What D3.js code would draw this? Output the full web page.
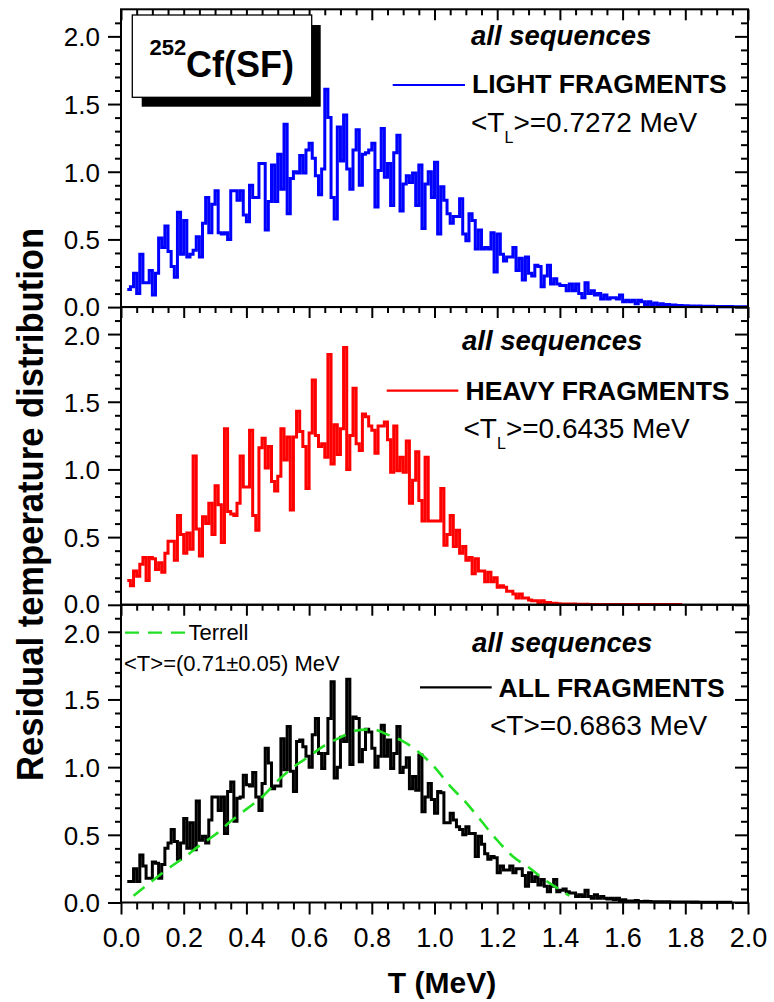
<!DOCTYPE html>
<html>
<head>
<meta charset="utf-8">
<script src="https://cdn.jsdelivr.net/npm/d3@7"></script>
<style>
  html, body { margin: 0; padding: 0; background: #fff; }
  svg { display: block; }
  text { font-family: "Liberation Sans", Arial, Helvetica, sans-serif; }
</style>
</head>
<body>
<svg id="chart" width="774" height="1002"></svg>
<script>
// Histogram binning: lower edge of the first bin and bin width (MeV)
const binStart = 0.02;
const binWidth = 0.01;

// Light fragments, bins from 0.02 to 1.99 MeV
const lightValues = [
  0.13,0.15,0.25,0.10,0.39,0.18,0.18,0.27,0.09,0.25,
  0.51,0.44,0.60,0.41,0.30,0.22,0.70,0.39,0.64,0.37,
  0.39,0.42,0.52,0.37,0.62,0.81,0.55,0.76,0.86,0.55,
  0.54,0.55,0.50,0.86,0.86,0.79,0.86,0.68,0.63,0.90,
  0.81,0.81,1.06,1.06,0.57,0.78,1.05,0.78,1.13,0.87,
  1.35,0.69,0.95,1.00,0.99,1.12,0.99,1.16,1.21,1.10,
  0.97,0.83,1.02,1.61,1.40,0.81,0.65,1.33,1.08,1.42,
  1.02,0.87,1.16,1.31,0.90,1.13,1.14,1.16,1.21,0.74,
  1.01,1.32,0.96,1.06,0.75,1.14,1.27,0.71,0.91,0.97,
  0.92,0.99,0.75,1.05,0.58,0.91,
  1.00,0.81,1.07,0.54,0.89,0.79,0.69,0.62,0.67,0.67,
  0.80,0.54,0.49,0.69,0.64,0.43,0.57,0.43,0.44,0.43,
  0.55,0.26,0.54,0.39,0.34,0.37,0.37,0.44,0.27,0.36,
  0.20,0.37,0.25,0.23,0.31,0.30,0.15,0.23,0.31,0.17,
  0.21,0.17,0.16,0.16,0.12,0.17,0.12,0.17,0.10,0.07,
  0.18,0.10,0.12,0.09,0.10,0.06,0.09,0.06,0.07,0.07,
  0.06,0.09,0.04,0.05,0.04,0.05,0.025,0.05,0.04,0.02,
  0.04,0.02,0.03,0.012,0.025,0.012,0.02,0.012,0.015,0.01,
  0.012,0.008,0.01,0.006,0.009,0.005,0.008,0.005,0.006,0.004,
  0.006,0.004,0.005,0.003,0.004,0.003,0.004,0.003,0.003,0.002,
  0.003,0.002
];

// Heavy fragments, bins from 0.02 to 1.78 MeV
const heavyValues = [
  0.18,0.14,0.25,0.21,0.30,0.35,0.18,0.35,0.34,0.26,
  0.31,0.24,0.38,0.47,0.47,0.33,0.66,0.52,0.38,0.53,
  0.41,1.10,0.56,0.36,0.65,0.60,0.75,0.52,0.88,0.74,
  0.46,1.30,0.69,0.67,0.66,0.75,1.10,0.87,0.87,1.29,
  0.66,0.55,1.16,1.23,1.01,1.17,0.91,0.84,0.95,1.30,
  1.07,1.24,0.70,1.24,1.43,1.28,1.17,0.86,1.27,1.66,
  1.25,1.17,1.19,1.09,1.85,1.04,1.33,1.11,1.30,1.90,
  1.00,1.25,1.60,1.19,1.14,1.41,1.39,1.32,1.29,1.12,
  1.32,1.32,1.35,1.22,0.98,1.32,0.99,1.09,0.98,1.21,
  0.75,0.92,1.13,0.77,0.62,
  1.09,0.62,0.62,0.62,0.62,0.86,0.44,0.52,0.66,0.43,
  0.55,0.38,0.43,0.33,0.35,0.23,0.34,0.25,0.25,0.17,
  0.24,0.17,0.20,0.13,0.14,0.13,0.10,0.10,0.08,0.05,
  0.08,0.05,0.05,0.035,0.03,0.03,0.017,0.03,0.017,0.017,
  0.01,0.012,0.008,0.005,
  0.005,0.006,0.004,0.005,0.004,0.004,0.003,0.004,0.003,0.003,
  0.003,0.003,0.002,0.003,0.002,0.002,0.002,0.002,0.002,0.002,
  0.002,0.002,0.002,0.002,0.002,0.002,0.002,0.002,0.002,0.002,
  0.002,0.002,0.002,0.002,0.002,0.002,0.002,0.002
];

// All fragments, bins from 0.02 to 1.94 MeV
const allValues = [
  0.155,0.155,0.25,0.155,0.35,0.27,0.18,0.18,0.30,0.29,
  0.18,0.28,0.40,0.44,0.54,0.45,0.32,0.44,0.62,0.40,
  0.59,0.39,0.75,0.46,0.49,0.44,0.61,0.78,0.78,0.68,
  0.78,0.51,0.82,0.89,0.60,0.77,0.78,0.94,0.87,0.86,
  0.96,0.78,0.68,0.88,1.14,1.03,0.84,0.86,0.86,1.21,
  0.98,1.30,0.97,0.82,1.19,1.20,1.15,1.08,1.00,1.24,
  1.36,1.10,0.99,1.10,1.36,1.63,0.92,1.00,1.22,1.19,
  1.65,1.02,1.37,1.36,1.04,1.13,1.28,1.26,1.14,1.00,
  1.08,1.31,1.08,1.20,0.99,1.10,1.30,0.96,1.00,1.07,
  0.84,0.93,0.83,1.09,0.67,0.78,
  0.88,0.76,0.66,0.82,0.81,0.59,0.59,0.66,0.61,0.56,
  0.54,0.50,0.56,0.51,0.51,0.34,0.49,0.43,0.36,0.32,
  0.34,0.33,0.22,0.27,0.24,0.24,0.27,0.22,0.25,0.25,
  0.20,0.12,0.22,0.155,0.19,0.13,0.17,0.12,0.08,0.12,
  0.17,0.08,0.09,0.10,0.08,0.07,0.07,0.044,0.057,0.044,
  0.09,0.044,0.032,0.057,0.032,0.044,0.032,0.025,0.032,0.02,
  0.032,0.015,0.02,0.012,0.012,0.008,0.015,0.008,0.008,0.01,
  0.008,0.005,
  0.006,0.004,0.005,0.004,0.005,0.003,0.004,0.003,0.004,0.003,
  0.003,0.003,0.002,0.003,0.002,0.002,0.002,0.002,0.002,0.002,
  0.002,0.002,0.001,0.002,0.001
];

// Terrell systematics curve (T in MeV, distribution value)
const terrellT = [0.04,0.10,0.15,0.20,0.25,0.30,0.35,0.40,0.45,0.50,0.55,0.60,0.65,0.70,0.75,
                  0.80,0.85,0.90,0.95,1.00,1.05,1.10,1.15,1.20,1.25,1.30,1.35,1.40,1.43];
const terrellV = [0.05,0.16,0.25,0.33,0.42,0.50,0.60,0.69,0.78,0.90,1.00,1.08,1.16,1.22,1.27,
                  1.28,1.24,1.19,1.11,1.00,0.86,0.74,0.60,0.46,0.34,0.26,0.17,0.095,0.05];

// Axis ticks
const xTicks = [0.0,0.2,0.4,0.6,0.8,1.0,1.2,1.4,1.6,1.8,2.0];
const yTicks = [0.0,0.5,1.0,1.5,2.0];

const FONT = '"Liberation Sans", Arial, Helvetica, sans-serif';
const svg = d3.select("#chart");

const x = d3.scaleLinear().domain([0, 2]).range([121, 748]);
const panelTop = [9.3, 307.0, 604.7];
const panelH = 297.8;

const xMinor = d3.range(0, 41).map(i => i * 0.05).filter(v => Math.round(v * 100) % 20 !== 0);
const yMinor = d3.range(1, 22).map(i => i * 0.1).filter(v => Math.round(v * 10) % 5 !== 0);

const panels = [
  { values: lightValues, color: "#0000ff" },
  { values: heavyValues, color: "#ff0000" },
  { values: allValues,   color: "#000000" }
];

function styleAxis(g, size) {
  g.select(".domain").remove();
  g.selectAll("line").attr("stroke", "#000").attr("stroke-width", 2);
  g.attr("font-family", FONT).attr("font-size", size || 26);
  g.selectAll("text").attr("fill", "#000");
  return g;
}

const ys = [];
panels.forEach((p, i) => {
  const top = panelTop[i], bottom = top + panelH;
  const y = d3.scaleLinear().domain([0, 2.2]).range([bottom, top]);
  ys.push(y);
  const g = svg.append("g");

  // step histogram
  const pts = p.values.map((v, k) => [binStart + k * binWidth, v]);
  pts.push([binStart + p.values.length * binWidth, p.values[p.values.length - 1]]);
  const line = d3.line().x(d => x(d[0])).y(d => y(d[1])).curve(d3.curveStepAfter);
  g.append("path")
    .attr("d", line(pts))
    .attr("fill", "none")
    .attr("stroke", p.color)
    .attr("stroke-width", 3)
    .attr("stroke-linejoin", "miter");

  // left axis: outward ticks with labels; labels at shared panel edges
  // are eased apart by a pixel so the stacked "0.0" / "2.0" stay legible
  styleAxis(svg.append("g").attr("transform", "translate(121,0)")
    .call(d3.axisLeft(y).tickValues(yTicks).tickSize(13).tickPadding(8).tickFormat(d3.format(".1f"))))
    .selectAll("text")
    .attr("dy", "0.36em")
    .attr("y", d => (d === 0 && i < 2) ? -1.2 : (d === 2 && i > 0) ? 1.2 : 0);
  styleAxis(svg.append("g").attr("transform", "translate(121,0)")
    .call(d3.axisLeft(y).tickValues(yMinor).tickSize(6).tickFormat("")));

  // right axis: inward ticks
  styleAxis(svg.append("g").attr("transform", "translate(748,0)")
    .call(d3.axisRight(y).tickValues(yTicks).tickSize(-13).tickFormat("")));
  styleAxis(svg.append("g").attr("transform", "translate(748,0)")
    .call(d3.axisRight(y).tickValues(yMinor).tickSize(-7).tickFormat("")));

  // top axis: inward ticks
  styleAxis(svg.append("g").attr("transform", `translate(0,${top})`)
    .call(d3.axisTop(x).tickValues(xTicks).tickSize(-11).tickFormat("")));
  styleAxis(svg.append("g").attr("transform", `translate(0,${top})`)
    .call(d3.axisTop(x).tickValues(xMinor).tickSize(-6).tickFormat("")));

  if (i === panels.length - 1) {
    styleAxis(svg.append("g").attr("transform", `translate(0,${bottom})`)
      .call(d3.axisBottom(x).tickValues(xTicks).tickSize(12).tickPadding(13).tickFormat(d3.format(".1f"))), 27);
    styleAxis(svg.append("g").attr("transform", `translate(0,${bottom})`)
      .call(d3.axisBottom(x).tickValues(xMinor).tickSize(7).tickFormat("")));
  }
});

// Terrell curve in the bottom panel
{
  const y = ys[2];
  const tLine = d3.line().x(d => x(d[0])).y(d => y(d[1])).curve(d3.curveMonotoneX);
  svg.append("path")
    .attr("d", tLine(terrellT.map((t, k) => [t, terrellV[k]])))
    .attr("fill", "none")
    .attr("stroke", "#22e022")
    .attr("stroke-width", 2.6)
    .attr("stroke-dasharray", "14,9");
}

// panel frames
panelTop.forEach(top => {
  svg.append("rect")
    .attr("x", x(0)).attr("y", top)
    .attr("width", x(2) - x(0)).attr("height", panelH)
    .attr("fill", "none").attr("stroke", "#000").attr("stroke-width", 2);
});

// text helpers
function label(tx, ty, str, size, weight, style) {
  return svg.append("text")
    .attr("x", tx).attr("y", ty)
    .attr("font-family", FONT)
    .attr("font-size", size)
    .attr("font-weight", weight || "normal")
    .attr("font-style", style || "normal")
    .attr("fill", "#000")
    .text(str);
}
function meanLabel(tx, ty, sub, rest) {
  const t = svg.append("text")
    .attr("x", tx).attr("y", ty)
    .attr("font-family", FONT).attr("font-size", 28).attr("fill", "#000");
  t.append("tspan").text("<T");
  if (sub) {
    t.append("tspan").attr("font-size", 16).attr("dy", 11).text(sub);
    t.append("tspan").attr("dy", -11).text(rest);
  } else {
    t.append("tspan").text(rest);
  }
}
function legendLine(x1, x2, yy, color, dash) {
  const l = svg.append("line")
    .attr("x1", x1).attr("x2", x2).attr("y1", yy).attr("y2", yy)
    .attr("stroke", color).attr("stroke-width", 2.2);
  if (dash) l.attr("stroke-dasharray", dash);
}

// top panel annotations
svg.append("rect").attr("x", 141.7).attr("y", 25).attr("width", 179).attr("height", 81.7).attr("fill", "#000");
svg.append("rect").attr("x", 132.3).attr("y", 15).attr("width", 179.4).attr("height", 82.3)
  .attr("fill", "#fff").attr("stroke", "#000").attr("stroke-width", 1.3);
label(149.5, 55, "252", 22, "bold");
label(186, 76.7, "Cf(SF)", 36, "bold");

label(471, 45, "all sequences", 27.5, "bold", "italic");
legendLine(392.7, 465, 85, "#0000ff");
label(472, 93.3, "LIGHT FRAGMENTS", 26.5, "bold");
meanLabel(471, 131.7, "L", ">=0.7272 MeV");

// middle panel annotations
label(462, 350, "all sequences", 27.5, "bold", "italic");
legendLine(386.7, 458.3, 390.7, "#ff0000");
label(465.5, 400, "HEAVY FRAGMENTS", 26.5, "bold");
meanLabel(463.5, 438, "L", ">=0.6435 MeV");

// bottom panel annotations
legendLine(125, 185, 632.7, "#22e022", "14,9");
label(188.5, 639.5, "Terrell", 22);
label(124, 670.5, "<T>=(0.71\u00B10.05) MeV", 22);
label(472, 651.7, "all sequences", 27.5, "bold", "italic");
legendLine(420, 491.7, 687.3, "#000000");
label(498.5, 696.7, "ALL FRAGMENTS", 26.5, "bold");
meanLabel(490, 735, null, ">=0.6863 MeV");

// axis titles
svg.append("text")
  .attr("transform", "translate(43,504.5) rotate(-90)")
  .attr("text-anchor", "middle")
  .attr("font-family", FONT).attr("font-size", 37).attr("font-weight", "bold")
  .attr("textLength", 553).attr("lengthAdjust", "spacingAndGlyphs")
  .attr("fill", "#000")
  .text("Residual temperature distribution");

svg.append("text")
  .attr("x", 442).attr("y", 993)
  .attr("text-anchor", "middle")
  .attr("font-family", FONT).attr("font-size", 30).attr("font-weight", "bold")
  .attr("fill", "#000")
  .text("T (MeV)");
</script>
</body>
</html>
